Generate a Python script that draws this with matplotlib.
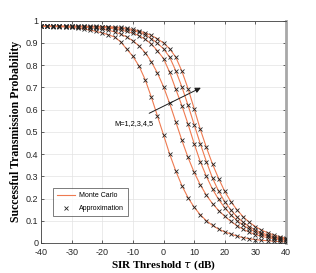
import numpy as np
import matplotlib
matplotlib.use("Agg")
import matplotlib.pyplot as plt

# SIR threshold (dB), one marker every 2 dB
tau_db = list(range(-40, 41, 2))

# success probability, M = 1..5
p_m1 = [0.975, 0.975, 0.974, 0.973, 0.972, 0.970, 0.967, 0.963, 0.958, 0.952,
        0.945, 0.937, 0.927, 0.905, 0.872, 0.840, 0.796, 0.735, 0.657, 0.572,
        0.486, 0.400, 0.324, 0.258, 0.204, 0.161, 0.127, 0.100, 0.079, 0.062,
        0.050, 0.040, 0.031, 0.024, 0.019, 0.015, 0.012, 0.010, 0.008, 0.006, 0.005]
p_m2 = [0.975, 0.975, 0.975, 0.975, 0.974, 0.974, 0.973, 0.971, 0.969, 0.966,
        0.962, 0.957, 0.950, 0.940, 0.927, 0.910, 0.887, 0.857, 0.816, 0.765,
        0.703, 0.628, 0.545, 0.462, 0.385, 0.318, 0.262, 0.215, 0.177, 0.146,
        0.120, 0.097, 0.078, 0.062, 0.049, 0.038, 0.030, 0.024, 0.019, 0.015, 0.012]
p_m3 = [0.975, 0.975, 0.975, 0.975, 0.975, 0.975, 0.974, 0.974, 0.973, 0.972,
        0.970, 0.967, 0.963, 0.958, 0.952, 0.944, 0.933, 0.917, 0.896, 0.865,
        0.830, 0.768, 0.692, 0.618, 0.535, 0.447, 0.366, 0.300, 0.242, 0.196,
        0.158, 0.127, 0.101, 0.080, 0.063, 0.050, 0.039, 0.031, 0.024, 0.019, 0.015]
p_m4 = [0.975, 0.975, 0.975, 0.975, 0.975, 0.975, 0.975, 0.975, 0.974, 0.974,
        0.973, 0.971, 0.969, 0.966, 0.962, 0.956, 0.948, 0.937, 0.920, 0.899,
        0.874, 0.836, 0.775, 0.702, 0.620, 0.533, 0.447, 0.366, 0.292, 0.233,
        0.186, 0.149, 0.118, 0.093, 0.074, 0.058, 0.046, 0.036, 0.028, 0.022, 0.017]
p_m5 = [0.975, 0.975, 0.975, 0.975, 0.975, 0.975, 0.975, 0.975, 0.975, 0.975,
        0.974, 0.973, 0.972, 0.970, 0.966, 0.961, 0.954, 0.945, 0.934, 0.919,
        0.900, 0.874, 0.836, 0.773, 0.695, 0.605, 0.512, 0.430, 0.355, 0.290,
        0.232, 0.186, 0.149, 0.118, 0.093, 0.074, 0.058, 0.046, 0.036, 0.028, 0.022]
curves = [p_m1, p_m2, p_m3, p_m4, p_m5]

xticks = [-40, -30, -20, -10, 0, 10, 20, 30, 40]
yticks = [0, 0.1, 0.2, 0.3, 0.4, 0.5, 0.6, 0.7, 0.8, 0.9, 1]
ytick_labels = ['0', '0.1', '0.2', '0.3', '0.4', '0.5', '0.6', '0.7', '0.8', '0.9', '1']

line_col = '#ee7a50'

fig = plt.figure(figsize=(3.16, 2.73), dpi=100)
ax = fig.add_axes([0.130, 0.110, 0.775, 0.814])

for i, p in enumerate(curves):
    ax.plot(tau_db, p, '-', color=line_col, lw=0.8,
            label='Monte Carlo' if i == 0 else None, zorder=2)
    ax.plot(tau_db, p, 'x', color='#222222', ms=3, mew=0.6,
            label='Approximation' if i == 0 else None, zorder=3)

ax.set_xlim(-40, 40)
ax.set_ylim(0, 1)
ax.set_xticks(xticks)
ax.set_yticks(yticks)
ax.set_xticklabels([str(t) for t in xticks], fontsize=6.5, family='Liberation Sans')
ax.set_yticklabels(ytick_labels, fontsize=6.5, family='Liberation Sans')
ax.tick_params(direction='in', length=2.5, width=0.5, top=True, right=True,
               colors='#262626')
ax.tick_params(axis='x', pad=3.5)
ax.tick_params(axis='y', pad=2)
ax.grid(True, color='#e3e3e3', lw=0.5)
ax.set_axisbelow(True)
for s in ['left', 'bottom', 'top']:
    ax.spines[s].set_color('#404040')
    ax.spines[s].set_linewidth(0.6)
ax.spines['right'].set_color('#a8a8a8')
ax.spines['right'].set_linewidth(2.0)

ax.set_xlabel(r'SIR Threshold $\tau$ (dB)', fontsize=8, family='Liberation Serif',
              fontweight='bold', labelpad=1)
ax.set_ylabel('Successful Transmission Probability', fontsize=8.5,
              family='Liberation Serif', fontweight='bold', labelpad=3)

ax.annotate('', xy=(13.0, 0.704), xytext=(-5.5, 0.578),
            arrowprops=dict(arrowstyle='-|>', color='#1a1a1a', lw=0.7,
                            mutation_scale=8))
ax.text(-9.6, 0.536, 'M=1,2,3,4,5', fontsize=5.3, family='Liberation Sans',
        ha='center', va='center')

leg = ax.legend(loc='lower left', bbox_to_anchor=(0.048, 0.12),
                frameon=True, fancybox=False, edgecolor='#404040',
                handlelength=2.6, handletextpad=0.6, borderpad=0.55,
                labelspacing=0.9, borderaxespad=0,
                prop={'family': 'Liberation Sans', 'size': 5.0})
leg.get_frame().set_linewidth(0.6)

fig.savefig('out.png', dpi=100)
